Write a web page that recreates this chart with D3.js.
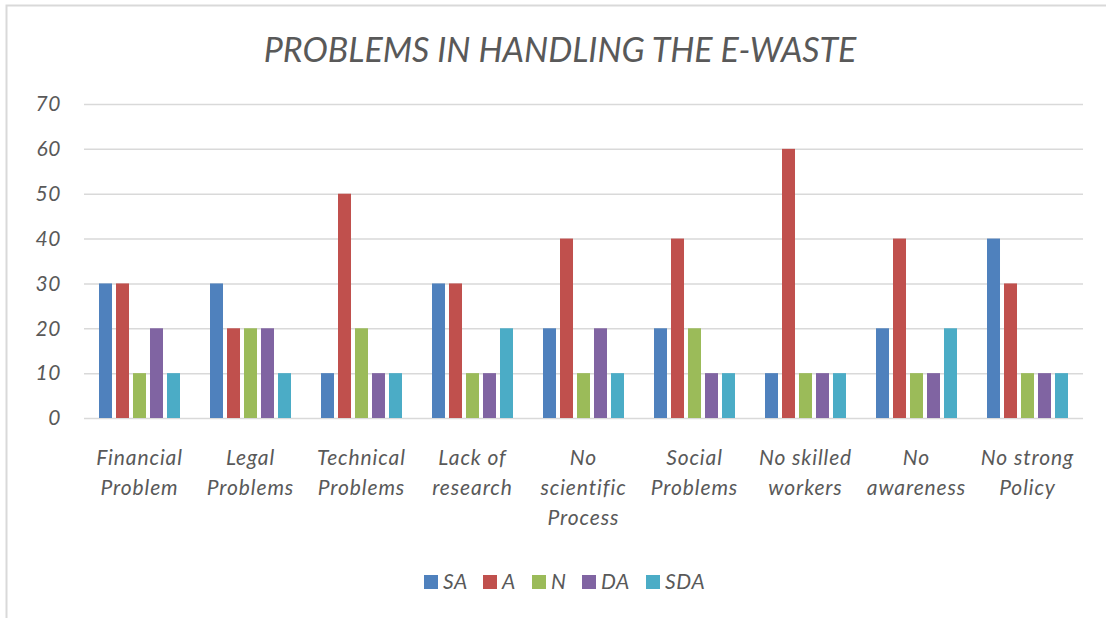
<!DOCTYPE html>
<html>
<head>
<meta charset="utf-8">
<script src="https://cdn.jsdelivr.net/npm/d3@7"></script>
<style>
  body { margin: 0; background: #fff; }
  text { font-family: Lato, "Open Sans", sans-serif; font-style: italic; fill: #595959; }
</style>
</head>
<body>
<div id="chartContainer"></div>
<script>
const categories = [
    'Financial Problem', 'Legal Problems', 'Technical Problems', 'Lack of research',
    'No scientific Process', 'Social Problems', 'No skilled workers', 'No awareness',
    'No strong Policy'
];
// how each category label breaks into lines
const categoryLines = [
    ['Financial', 'Problem'], ['Legal', 'Problems'], ['Technical', 'Problems'],
    ['Lack of', 'research'], ['No', 'scientific', 'Process'], ['Social', 'Problems'],
    ['No skilled', 'workers'], ['No', 'awareness'], ['No strong', 'Policy']
];
const seriesNames = ['SA', 'A', 'N', 'DA', 'SDA'];
const SA = [30, 30, 10, 30, 20, 20, 10, 20, 40];
const A = [30, 20, 50, 30, 40, 40, 60, 40, 30];
const N = [10, 20, 20, 10, 10, 20, 10, 10, 10];
const DA = [20, 20, 10, 10, 20, 10, 10, 10, 10];
const SDA = [10, 10, 10, 20, 10, 10, 10, 20, 10];
const yTicks = [0, 10, 20, 30, 40, 50, 60, 70];

const seriesValues = [SA, A, N, DA, SDA];
const colors = ['#4F81BD', '#C0504D', '#9BBB59', '#8064A2', '#4BACC6'];

const svgWidth = 1106;
const svgHeight = 618;
const margin = { top: 104, right: 23, bottom: 200, left: 84 };
const chartWidth = svgWidth - margin.left - margin.right;
const chartHeight = 418 - margin.top;

const svg = d3.select('#chartContainer')
    .append('svg')
    .attr('width', svgWidth)
    .attr('height', svgHeight);

// outer frame
svg.append('rect')
    .attr('x', 6.5)
    .attr('y', 5.5)
    .attr('width', 1200)
    .attr('height', 800)
    .attr('fill', 'none')
    .attr('stroke', '#d9d9d9')
    .attr('stroke-width', 2);

svg.append('text')
    .attr('x', 560)
    .attr('y', 62)
    .attr('text-anchor', 'middle')
    .style('font-size', '34px')
    .text('PROBLEMS IN HANDLING THE E-WASTE');

const x0 = d3.scaleBand()
    .domain(categories)
    .range([0, chartWidth])
    .padding(0);

const x1 = d3.scaleBand()
    .domain(seriesNames)
    .range([15, x0.bandwidth() - 15])
    .paddingInner(0.235);

const yScale = d3.scaleLinear()
    .domain([0, 70])
    .range([chartHeight, 0]);

const chart = svg.append('g')
    .attr('transform', `translate(${margin.left}, ${margin.top})`);

const yAxis = d3.axisLeft(yScale)
    .tickValues(yTicks)
    .tickSize(-chartWidth)
    .tickPadding(23);

chart.append('g')
    .attr('class', 'y-axis')
    .call(yAxis)
    .call(g => g.select('.domain').remove())
    .call(g => g.selectAll('line').attr('stroke', '#d9d9d9').attr('stroke-width', 1.5))
    .call(g => g.selectAll('text')
        .style('font-size', '21px')
        .style('letter-spacing', '0.6px')
        .style('font-family', 'Lato, "Open Sans", sans-serif')
        .attr('fill', '#595959'));

const groups = chart.selectAll('.group')
    .data(categories)
    .enter().append('g')
    .attr('class', 'group')
    .attr('transform', d => `translate(${x0(d)}, 0)`);

groups.selectAll('rect')
    .data((d, i) => seriesNames.map((s, j) => ({ series: s, value: seriesValues[j][i], color: colors[j] })))
    .enter().append('rect')
    .attr('x', d => x1(d.series))
    .attr('y', d => yScale(d.value))
    .attr('width', x1.bandwidth())
    .attr('height', d => chartHeight - yScale(d.value))
    .attr('fill', d => d.color);

// category labels
const xLabels = chart.append('g').attr('class', 'x-labels');
categories.forEach((c, i) => {
    const t = xLabels.append('text')
        .attr('x', x0(c) + x0.bandwidth() / 2)
        .attr('y', chartHeight + 47)
        .attr('text-anchor', 'middle')
        .style('font-size', '21px')
        .style('letter-spacing', '0.9px');
    categoryLines[i].forEach((line, k) => {
        t.append('tspan')
            .attr('x', x0(c) + x0.bandwidth() / 2)
            .attr('dy', k === 0 ? 0 : 30)
            .text(line);
    });
});

// legend
const legendX = [424, 483, 532, 582, 646];
const legend = svg.append('g').attr('class', 'legend');
seriesNames.forEach((s, i) => {
    legend.append('rect')
        .attr('x', legendX[i])
        .attr('y', 575)
        .attr('width', 14)
        .attr('height', 14)
        .attr('fill', colors[i]);
    legend.append('text')
        .attr('x', legendX[i] + 19)
        .attr('y', 589)
        .style('font-size', '21px')
        .style('letter-spacing', '0.6px')
        .text(s);
});
</script>
</body>
</html>
